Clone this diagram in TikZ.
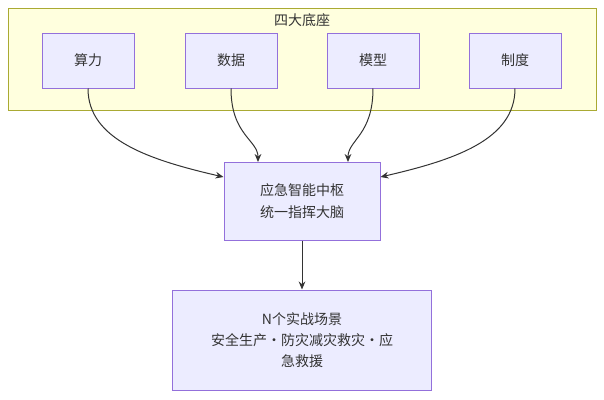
\documentclass[tikz,border=0pt]{standalone}
\usepackage{fontspec}
\setmainfont{Noto Sans CJK SC}
\usetikzlibrary{arrows.meta}
\definecolor{nf}{HTML}{ECECFF}\definecolor{ns}{HTML}{9370DB}
\definecolor{gf}{HTML}{FFFFDE}\definecolor{gs}{HTML}{AAAA33}
\definecolor{tx}{HTML}{333333}
\begin{document}
\begin{tikzpicture}[x=0.75pt,y=-0.75pt,font=\fontsize{10.5}{16}\selectfont,
 box/.style={draw=ns,fill=nf,line width=0.75pt,text=tx,align=center,inner sep=0pt},
 ar/.style={draw=tx,line width=0.75pt,-{Stealth[length=6pt,width=5pt]}}]
\useasboundingbox (0,0) rectangle (604,400);
\node[draw=gs,fill=gf,line width=0.75pt,minimum width=588*0.75pt,minimum height=102*0.75pt,inner sep=0pt] (g) at (302,59) {};
\node[text=tx] (gt) at (302,20) {四大底座};
\node[box,minimum width=92*0.75pt,minimum height=55*0.75pt] (a) at (88,60.5) {算力};
\node[box,minimum width=92*0.75pt,minimum height=55*0.75pt] (b) at (231,60.5) {数据};
\node[box,minimum width=92*0.75pt,minimum height=55*0.75pt] (c) at (373,60.5) {模型};
\node[box,minimum width=92*0.75pt,minimum height=55*0.75pt] (d) at (515,60.5) {制度};
\node[box,minimum width=156*0.75pt,minimum height=78*0.75pt] (m) at (302,201) {应急智能中枢\\统一指挥大脑};
\node[box,minimum width=259*0.75pt,minimum height=100*0.75pt] (n) at (302,340) {N个实战场景\\安全生产·防灾减灾救灾·应\\急救援};
\draw[ar] (a.south) .. controls (88,140) and (150,160) .. (m.west|-0,177);
\draw[ar] (b.south) .. controls (231,135) and (258,140) .. (258,162);
\draw[ar] (c.south) .. controls (373,135) and (348,140) .. (348,162);
\draw[ar] (d.south) .. controls (515,140) and (454,160) .. (m.east|-0,177);
\draw[ar] (m.south) -- (n.north);
\end{tikzpicture}
\end{document}
